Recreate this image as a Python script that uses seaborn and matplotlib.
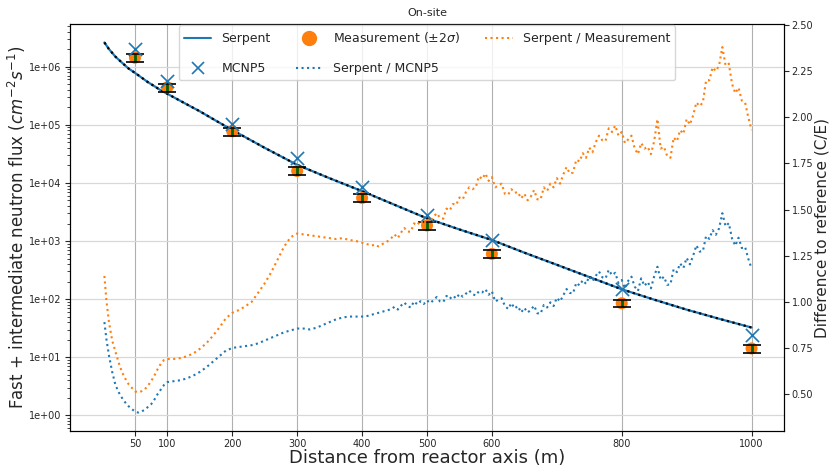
import numpy as np
import matplotlib
matplotlib.use("Agg")
import matplotlib.pyplot as plt
from matplotlib.lines import Line2D
from matplotlib.ticker import FuncFormatter, FixedLocator, LogLocator, NullFormatter
import seaborn as sns

# ---- data -------------------------------------------------------------
# detector positions (m) with measured and MCNP5 flux (cm^-2 s^-1)
dist = [50, 100, 200, 300, 400, 500, 600, 800, 1000]
meas_flux = [1.42e6, 4.4e5, 7.7e4, 1.6e4, 5.5e3, 1.85e3, 6.0e2, 85, 14.2]
meas_err = [2.2e5, 6.8e4, 1.2e4, 2.5e3, 8.5e2, 2.9e2, 93, 13, 2.2]
mcnp_flux = [2.0e6, 5.6e5, 1.04e5, 2.7e4, 8.5e3, 2.77e3, 1.04e3, 148, 24]

# Serpent flux profile along the distance axis
serpent_x = [3, 10, 20, 30, 40, 50, 60, 70, 80, 90, 100, 125, 150, 175, 200,
             250, 300, 350, 400, 450, 500, 550, 600, 650, 700, 750, 800, 850,
             900, 950, 1000]
serpent_flux = [2.6e6, 2.0e6, 1.48e6, 1.17e6, 9.3e5, 7.8e5, 6.5e5, 5.4e5,
                4.6e5, 3.9e5, 3.4e5, 2.4e5, 1.7e5, 1.17e5, 8.1e4, 4.0e4,
                2.04e4, 1.2e4, 7.2e3, 4.2e3, 2.45e3, 1.58e3, 1.04e3, 6.3e2,
                3.9e2, 2.4e2, 1.48e2, 98, 66, 46, 32.5]

# C/E ratio profiles
ratio_x = ([3, 6, 10, 15, 20, 25, 30, 35, 40, 45, 50, 55, 60, 65, 70, 75, 80,
            85, 90, 95, 100]
           + list(range(110, 401, 10))
           + list(range(405, 1001, 5)))

ratio_meas = [
    1.14, 1.01, 0.89, 0.79, 0.73, 0.67, 0.62, 0.585, 0.555, 0.535, 0.515,
    0.51, 0.515, 0.525, 0.545, 0.57, 0.60, 0.635, 0.665, 0.685, 0.69,
    # 110 - 400
    0.69, 0.695, 0.705, 0.72, 0.745, 0.775, 0.815, 0.86, 0.91, 0.94,
    0.955, 0.975, 1.00, 1.05, 1.10, 1.16, 1.23, 1.30, 1.35, 1.37,
    1.365, 1.36, 1.355, 1.35, 1.345, 1.34, 1.345, 1.335, 1.33, 1.32,
    # 405 - 1000
    1.315, 1.31, 1.305, 1.31, 1.30, 1.31, 1.32, 1.33, 1.345,
    1.365, 1.345, 1.375, 1.40, 1.38, 1.38, 1.425, 1.415, 1.44, 1.42,
    1.45, 1.435, 1.46, 1.48, 1.455, 1.45, 1.505, 1.495, 1.53, 1.525,
    1.565, 1.555, 1.595, 1.62, 1.61, 1.62, 1.68, 1.665, 1.695, 1.655,
    1.675, 1.62, 1.63, 1.64, 1.585, 1.58, 1.61, 1.59, 1.595, 1.56,
    1.585, 1.55, 1.57, 1.605, 1.555, 1.555, 1.62, 1.60, 1.64, 1.62,
    1.67, 1.64, 1.69, 1.73, 1.695, 1.70, 1.77, 1.76, 1.805, 1.78,
    1.835, 1.81, 1.865, 1.90, 1.875, 1.87, 1.94, 1.92, 1.955, 1.90,
    1.92, 1.86, 1.88, 1.90, 1.83, 1.80, 1.86, 1.83, 1.84, 1.80,
    1.87, 1.99, 1.83, 1.84, 1.79, 1.78, 1.89, 1.87, 1.93, 1.91,
    1.99, 1.96, 2.01, 2.08, 2.06, 2.08, 2.20, 2.20, 2.27, 2.25,
    2.28, 2.38, 2.28, 2.29, 2.18, 2.13, 2.16, 2.09, 2.08, 2.00,
    1.93]

ratio_mcnp = [
    0.89, 0.80, 0.71, 0.62, 0.55, 0.51, 0.48, 0.455, 0.435, 0.42, 0.405,
    0.40, 0.405, 0.415, 0.43, 0.445, 0.47, 0.50, 0.525, 0.55, 0.565,
    # 110 - 400
    0.57, 0.575, 0.585, 0.60, 0.62, 0.645, 0.675, 0.705, 0.735, 0.75,
    0.755, 0.76, 0.765, 0.775, 0.79, 0.805, 0.82, 0.835, 0.845, 0.855,
    0.855, 0.85, 0.86, 0.875, 0.89, 0.905, 0.915, 0.92, 0.92, 0.92,
    # 405 - 1000
    0.92, 0.925, 0.93, 0.935, 0.94, 0.945, 0.95, 0.955, 0.96,
    0.973, 0.958, 0.979, 0.996, 0.977, 0.969, 1.002, 0.986, 1.003, 0.988,
    1.008, 0.993, 1.009, 1.026, 1.002, 0.999, 1.032, 1.016, 1.033, 1.018,
    1.043, 1.028, 1.044, 1.061, 1.042, 1.034, 1.057, 1.051, 1.068, 1.038,
    1.057, 1.002, 1.011, 1.019, 0.978, 0.961, 0.993, 0.964, 0.977, 0.942,
    0.967, 0.942, 0.956, 0.979, 0.938, 0.936, 0.983, 0.969, 0.997, 0.977,
    1.022, 1.002, 1.036, 1.069, 1.048, 1.046, 1.103, 1.089, 1.117, 1.097,
    1.137, 1.112, 1.141, 1.164, 1.133, 1.126, 1.173, 1.144, 1.157, 1.102,
    1.118, 1.073, 1.114, 1.136, 1.082, 1.059, 1.127, 1.086, 1.108, 1.073,
    1.138, 1.19, 1.119, 1.136, 1.092, 1.094, 1.177, 1.161, 1.208, 1.183,
    1.238, 1.203, 1.249, 1.306, 1.272, 1.274, 1.357, 1.341, 1.388, 1.363,
    1.398, 1.48, 1.409, 1.426, 1.342, 1.304, 1.347, 1.291, 1.298, 1.233,
    1.18]

x_ticks = [50, 100, 200, 300, 400, 500, 600, 800, 1000]
ratio_ticks = [0.50, 0.75, 1.00, 1.25, 1.50, 1.75, 2.00, 2.25, 2.50]

BLUE = "#1f77b4"
ORANGE = "#ff7f0e"

# ---- figure -----------------------------------------------------------
sns.set_style("white")
plt.rcParams["font.family"] = ["DejaVu Sans"]
plt.rcParams["axes.edgecolor"] = "black"

fig = plt.figure(figsize=(8.3, 4.67), dpi=100)
ax = fig.add_axes([70 / 830, 36 / 467, 714 / 830, 407 / 467])
ax.set_yscale("log")

# flux curves and points
sns.lineplot(x=serpent_x, y=serpent_flux, ax=ax, color=BLUE, lw=1.6,
             legend=False, zorder=2)
ax.plot(serpent_x, serpent_flux, color="black", ls=(0, (1, 1.6)), lw=1.6,
        zorder=2.1)
sns.scatterplot(x=dist, y=meas_flux, ax=ax, color=ORANGE, s=75,
                edgecolor="none", legend=False, zorder=3)
eb = ax.errorbar(dist, meas_flux, yerr=meas_err, fmt="none",
                 ecolor="darkgreen", elinewidth=2, capsize=6.5,
                 capthick=1.2, zorder=4)
for c in eb[1]:
    c.set_markeredgecolor("black")
    c.set_color("black")
sns.scatterplot(x=dist, y=mcnp_flux, ax=ax, color=BLUE, marker="x", s=90,
                linewidth=1.2, legend=False, zorder=5)

ax.set_xlim(-50, 1050)
ax.set_ylim(0.54, 5.4e6)
ax.xaxis.set_major_locator(FixedLocator(x_ticks))
ax.yaxis.set_major_locator(LogLocator(base=10, numticks=12))
ax.yaxis.set_minor_locator(LogLocator(base=10, subs=np.arange(2, 10), numticks=12))
ax.yaxis.set_major_formatter(FuncFormatter(lambda v, p: f"{v:.0e}"))
ax.yaxis.set_minor_formatter(NullFormatter())
ax.tick_params(axis="both", which="major", labelsize=7, length=3.5,
               pad=2.5, direction="out", left=True, bottom=True)
ax.tick_params(axis="y", which="minor", length=2, left=True)
ax.grid(True, axis="x", color="#b0b0b0", lw=0.8)
ax.grid(True, axis="y", which="major", color="#d8d8d8", lw=0.9)
ax.set_axisbelow(True)
ax.set_xlabel("Distance from reactor axis (m)", fontsize=13, labelpad=0)
ax.set_ylabel("Fast + intermediate neutron flux ($cm^{-2}s^{-1}$)",
              fontsize=12, labelpad=1)
ax.set_title("On-site", fontsize=8, pad=6)

# C/E ratios on the secondary axis
ax2 = ax.twinx()
sns.lineplot(x=ratio_x, y=ratio_mcnp, ax=ax2, color=BLUE, lw=1.5,
             linestyle=":", legend=False)
sns.lineplot(x=ratio_x, y=ratio_meas, ax=ax2, color=ORANGE, lw=1.5,
             linestyle=":", legend=False)
ax2.set_ylim(0.30, 2.505)
ax2.yaxis.set_major_locator(FixedLocator(ratio_ticks))
ax2.yaxis.set_major_formatter(FuncFormatter(lambda v, p: f"{v:.2f}"))
ax2.tick_params(axis="y", labelsize=7, length=3.5, pad=2,
                direction="out", right=True)
ax2.set_ylabel("Difference to reference (C/E)", fontsize=11, labelpad=1)
ax2.grid(False)
for s in ax2.spines.values():
    s.set_color("black")

handles = [
    Line2D([], [], color=BLUE, lw=1.5),
    Line2D([], [], color=BLUE, marker="x", ls="none", markersize=9, mew=1.2),
    Line2D([], [], color=ORANGE, marker="o", ls="none", markersize=10),
    Line2D([], [], color=BLUE, ls=":", lw=1.5),
    Line2D([], [], color=ORANGE, ls=":", lw=1.5),
]
labels = ["Serpent", "MCNP5", r"Measurement ($\pm 2\sigma$)",
          "Serpent / MCNP5", "Serpent / Measurement"]
ax2.legend(handles, labels, loc="upper center", bbox_to_anchor=(0.5, 1.0),
           ncol=3, fontsize=9, labelspacing=1.35, borderaxespad=0.1,
           columnspacing=2.0, handlelength=2.2, framealpha=0.8,
           edgecolor="#cccccc", fancybox=True)

fig.savefig("out.png", dpi=100)
